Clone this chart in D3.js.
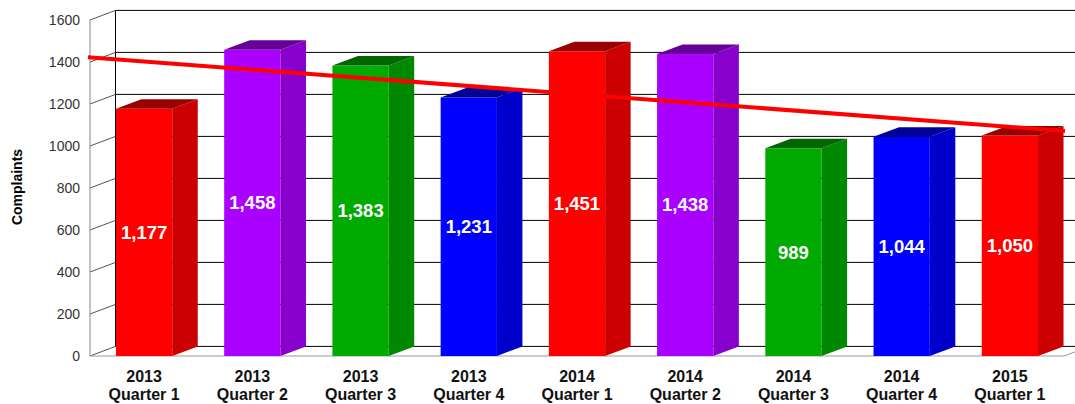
<!DOCTYPE html>
<html>
<head>
<meta charset="utf-8">
<script src="https://cdn.jsdelivr.net/npm/d3@7"></script>
<style>
  body { margin: 0; background: #fff; }
  svg { display: block; font-family: "Liberation Sans", Arial, sans-serif; }
</style>
</head>
<body>
<div id="chart"></div>
<script>
var categories = ['2013|Quarter 1', '2013|Quarter 2', '2013|Quarter 3', '2013|Quarter 4',
  '2014|Quarter 1', '2014|Quarter 2', '2014|Quarter 3', '2014|Quarter 4', '2015|Quarter 1'];
var complaints = [1177, 1458, 1383, 1231, 1451, 1438, 989, 1044, 1050];
var yTicks = [0, 200, 400, 600, 800, 1000, 1200, 1400, 1600];
var palette = [
  { front: '#ff0000', side: '#cc0000', top: '#990000' },
  { front: '#aa00ff', side: '#8800cc', top: '#660099' },
  { front: '#00aa00', side: '#008800', top: '#006600' },
  { front: '#0000ff', side: '#0000cc', top: '#000099' }
];

var width = 1075, height = 404;
var dx = 25.5, dy = -9.6; // depth offset of back wall

var svg = d3.select('#chart').append('svg').attr('width', width).attr('height', height);

var x = d3.scaleBand().domain(categories).range([90, 1064]).paddingInner(0.48).paddingOuter(0.24);
var y = d3.scaleLinear().domain([0, 1600]).range([356, 20]);
var step = x.step();

// back wall grid
var back = svg.append('g');
back.selectAll('line.grid').data(yTicks).enter().append('line')
  .attr('x1', 90 + dx).attr('x2', width + 10)
  .attr('y1', function (d) { return y(d) + dy; })
  .attr('y2', function (d) { return y(d) + dy; })
  .attr('stroke', '#000').attr('stroke-width', 1);
back.append('line')
  .attr('x1', 90 + dx).attr('x2', 90 + dx)
  .attr('y1', y(1600) + dy).attr('y2', y(0) + dy)
  .attr('stroke', '#000');

// side wall ticks
back.selectAll('line.tick').data(yTicks).enter().append('line')
  .attr('x1', 90).attr('y1', function (d) { return y(d); })
  .attr('x2', 90 + dx).attr('y2', function (d) { return y(d) + dy; })
  .attr('stroke', '#555');

// front axis and floor edges
back.append('line').attr('x1', 90).attr('x2', 90).attr('y1', y(1600)).attr('y2', y(0)).attr('stroke', '#888');
back.append('line').attr('x1', 90).attr('x2', 1064).attr('y1', y(0)).attr('y2', y(0)).attr('stroke', '#999');
back.append('line').attr('x1', 1064).attr('x2', 1064 + dx).attr('y1', y(0)).attr('y2', y(0) + dy).attr('stroke', '#999');

// y tick labels
svg.append('g').selectAll('text').data(yTicks).enter().append('text')
  .attr('x', 80).attr('y', function (d) { return y(d); })
  .attr('dy', '0.35em').attr('text-anchor', 'end')
  .attr('font-size', 14).attr('fill', '#333')
  .text(function (d) { return d; });

svg.append('text')
  .attr('transform', 'translate(22,187) rotate(-90)')
  .attr('text-anchor', 'middle').attr('font-size', 14).attr('font-weight', 'bold')
  .text('Complaints');

// bars
var bars = svg.append('g').selectAll('g').data(complaints).enter().append('g');
bars.each(function (v, i) {
  var g = d3.select(this);
  var c = palette[i % 4];
  var x0 = x(categories[i]), w = x.bandwidth();
  var yt = y(v), yb = y(0);
  g.append('rect').attr('x', x0).attr('y', yt).attr('width', w).attr('height', yb - yt).attr('fill', c.front);
  g.append('path')
    .attr('d', 'M' + (x0 + w) + ',' + yb + 'L' + (x0 + w) + ',' + yt + 'L' + (x0 + w + dx) + ',' + (yt + dy) +
      'L' + (x0 + w + dx) + ',' + (yb + dy) + 'Z')
    .attr('fill', c.side);
  g.append('path')
    .attr('d', 'M' + x0 + ',' + yt + 'L' + (x0 + dx) + ',' + (yt + dy) + 'L' + (x0 + w + dx) + ',' + (yt + dy) +
      'L' + (x0 + w) + ',' + yt + 'Z')
    .attr('fill', c.top);
  g.append('text')
    .attr('x', x0 + w / 2).attr('y', (yt + yb) / 2).attr('dy', '0.35em')
    .attr('text-anchor', 'middle').attr('font-size', 18.5).attr('font-weight', 'bold').attr('fill', '#fff')
    .text(d3.format(',')(v));
});

// linear trend line across the full plot width
var n = complaints.length;
var mx = (n - 1) / 2, my = d3.mean(complaints);
var sxy = d3.sum(complaints, function (v, i) { return (i - mx) * (v - my); });
var sxx = d3.sum(complaints, function (v, i) { return (i - mx) * (i - mx); });
var slope = sxy / sxx;
var trendAt = function (i) { return my + slope * (i - mx); };
svg.append('line')
  .attr('x1', 88).attr('y1', y(trendAt(-0.5 - 2 / step)))
  .attr('x2', 1065).attr('y2', y(trendAt(n - 0.5 + 1 / step)))
  .attr('stroke', '#ff0000').attr('stroke-width', 4);

// x labels
var xl = svg.append('g').selectAll('text').data(categories).enter().append('text')
  .attr('text-anchor', 'middle').attr('font-size', 16).attr('font-weight', 'bold').attr('fill', '#111')
  .attr('transform', function (d) { return 'translate(' + (x(d) + x.bandwidth() / 2) + ',0)'; });
xl.append('tspan').attr('x', 0).attr('y', 382).text(function (d) { return d.split('|')[0]; });
xl.append('tspan').attr('x', 0).attr('y', 400).text(function (d) { return d.split('|')[1]; });
</script>
</body>
</html>
